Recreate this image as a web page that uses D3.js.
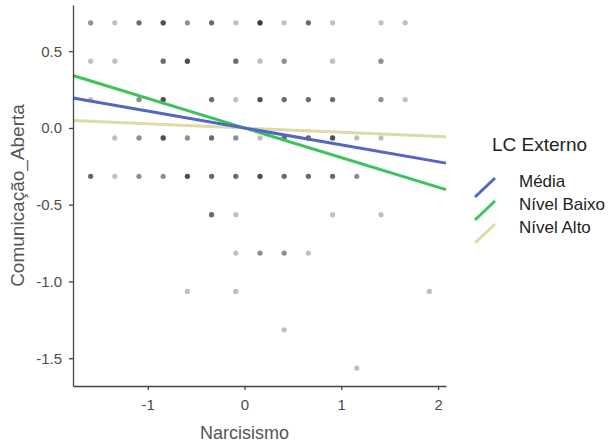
<!DOCTYPE html>
<html>
<head>
<meta charset="utf-8">
<script src="https://cdn.jsdelivr.net/npm/d3@7"></script>
<style>
  body { margin: 0; background: #fff; }
  svg { display: block; font-family: "Liberation Sans", Arial, sans-serif; }
</style>
</head>
<body>
<div id="chart"></div>
<script>
// grid of observed values (Narcisismo x Comunicação_Aberta)
const narcLevels = [-1.59, -1.34, -1.09, -0.84, -0.59, -0.34, -0.09, 0.16, 0.41, 0.66, 0.91, 1.16, 1.41, 1.66, 1.91];
const comLevels = [0.685, 0.435, 0.185, -0.065, -0.315, -0.565, -0.815, -1.065, -1.315, -1.565];
// number of overlapping observations per cell, one row per comLevels entry
const counts = [
  [2, 1, 3, 4, 2, 3, 1, 5, 1, 3, 1, 0, 1, 1, 0],
  [1, 1, 0, 3, 4, 0, 3, 1, 2, 0, 1, 0, 2, 0, 0],
  [1, 0, 2, 4, 0, 3, 1, 4, 3, 3, 3, 0, 2, 1, 0],
  [0, 1, 2, 4, 2, 3, 2, 1, 3, 3, 4, 1, 1, 0, 0],
  [3, 1, 2, 2, 4, 3, 3, 4, 3, 3, 3, 2, 0, 0, 0],
  [0, 0, 0, 0, 0, 3, 1, 0, 0, 0, 1, 0, 1, 0, 0],
  [0, 0, 0, 0, 0, 0, 1, 2, 2, 1, 0, 0, 0, 0, 0],
  [0, 0, 0, 0, 1, 0, 1, 0, 0, 0, 0, 0, 0, 0, 1],
  [0, 0, 0, 0, 0, 0, 0, 0, 1, 0, 0, 0, 0, 0, 0],
  [0, 0, 0, 0, 0, 0, 0, 0, 0, 0, 0, 1, 0, 0, 0],
];

// simple slopes at the ends of the x range
const lineX = [-1.772, 2.082];
const seriesNames = ["Média", "Nível Baixo", "Nível Alto"];
const mediaY = [0.195, -0.229];
const baixoY = [0.342, -0.402];
const altoY = [0.048, -0.057];
const seriesColors = ["#5266c4", "#3ec25a", "#dedaa8"];

const xTicks = [-1, 0, 1, 2];
const yTicks = [0.5, 0.0, -0.5, -1.0, -1.5];

const width = 614, height = 447;
const margin = { left: 73, right: 168, top: 5, bottom: 61 };

const svg = d3.select("#chart").append("svg")
  .attr("width", width)
  .attr("height", height);

const x = d3.scaleLinear()
  .domain([-1.772, 2.082])
  .range([margin.left, width - margin.right]);

const y = d3.scaleLinear()
  .domain([0.801, -1.681])
  .range([margin.top, height - margin.bottom]);

// points: one circle per observation, translucent so overlaps get darker
const points = [];
counts.forEach((row, j) => {
  row.forEach((n, k) => {
    for (let i = 0; i < n; i++) points.push({ x: narcLevels[k], y: comLevels[j] });
  });
});

svg.append("g")
  .selectAll("circle")
  .data(points)
  .join("circle")
  .attr("cx", (d) => x(d.x))
  .attr("cy", (d) => y(d.y))
  .attr("r", 2.6)
  .attr("fill", "#000")
  .attr("fill-opacity", 0.25);

// regression lines
const series = [mediaY, baixoY, altoY].map((vals, i) => ({
  name: seriesNames[i],
  color: seriesColors[i],
  pts: lineX.map((xv, j) => [xv, vals[j]]),
}));

const line = d3.line().x((d) => x(d[0])).y((d) => y(d[1]));

svg.append("g")
  .selectAll("path")
  .data(series.slice().reverse())
  .join("path")
  .attr("d", (d) => line(d.pts))
  .attr("fill", "none")
  .attr("stroke", (d) => d.color)
  .attr("stroke-width", 3);

// axes
const axisColor = "#444";
const tickTextColor = "#4d4d4d";
const hyphen = (fmt) => (v) => fmt(v).replace("\u2212", "-");

svg.append("g")
  .attr("transform", `translate(0,${height - margin.bottom})`)
  .call(d3.axisBottom(x).tickValues(xTicks).tickFormat(hyphen(d3.format("d"))).tickSize(4).tickSizeOuter(0))
  .call((g) => g.select(".domain").attr("stroke", axisColor).attr("stroke-width", 1.3))
  .call((g) => g.selectAll(".tick line").attr("stroke", axisColor).attr("stroke-width", 1.3))
  .call((g) => g.selectAll(".tick text")
    .attr("fill", tickTextColor)
    .attr("font-size", "15px")
    .attr("dy", "1.1em")
    .style("font-family", "Liberation Sans, Arial, sans-serif"));

svg.append("g")
  .attr("transform", `translate(${margin.left},0)`)
  .call(d3.axisLeft(y).tickValues(yTicks).tickFormat(hyphen(d3.format(".1f"))).tickSize(4).tickSizeOuter(0))
  .call((g) => g.select(".domain").attr("stroke", axisColor).attr("stroke-width", 1.3))
  .call((g) => g.selectAll(".tick line").attr("stroke", axisColor).attr("stroke-width", 1.3))
  .call((g) => g.selectAll(".tick text")
    .attr("fill", tickTextColor)
    .attr("font-size", "15px")
    .attr("x", -11)
    .style("font-family", "Liberation Sans, Arial, sans-serif"));

// axis titles
svg.append("text")
  .attr("x", x(0.0))
  .attr("y", 439)
  .attr("text-anchor", "middle")
  .attr("fill", "#555")
  .attr("font-size", "18px")
  .text("Narcisismo");

svg.append("text")
  .attr("transform", `translate(24,${(margin.top + height - margin.bottom) / 2 + 0}) rotate(-90)`)
  .attr("text-anchor", "middle")
  .attr("fill", "#555")
  .attr("font-size", "19px")
  .text("Comunicação_Aberta");

// legend
const legend = svg.append("g").attr("transform", "translate(475,0)");
legend.append("text")
  .attr("x", 17)
  .attr("y", 151)
  .attr("fill", "#222")
  .attr("font-size", "19px")
  .text("LC Externo");

const item = legend.selectAll(".item")
  .data(series)
  .join("g")
  .attr("class", "item")
  .attr("transform", (d, i) => `translate(0,${181 + i * 23})`);

item.append("line")
  .attr("x1", 0).attr("y1", 16)
  .attr("x2", 20).attr("y2", -3)
  .attr("stroke", (d) => d.color)
  .attr("stroke-width", 3);

item.append("text")
  .attr("x", 44)
  .attr("y", 0)
  .attr("dy", "0.35em")
  .attr("fill", "#222")
  .attr("font-size", "17px")
  .text((d) => d.name);
</script>
</body>
</html>
